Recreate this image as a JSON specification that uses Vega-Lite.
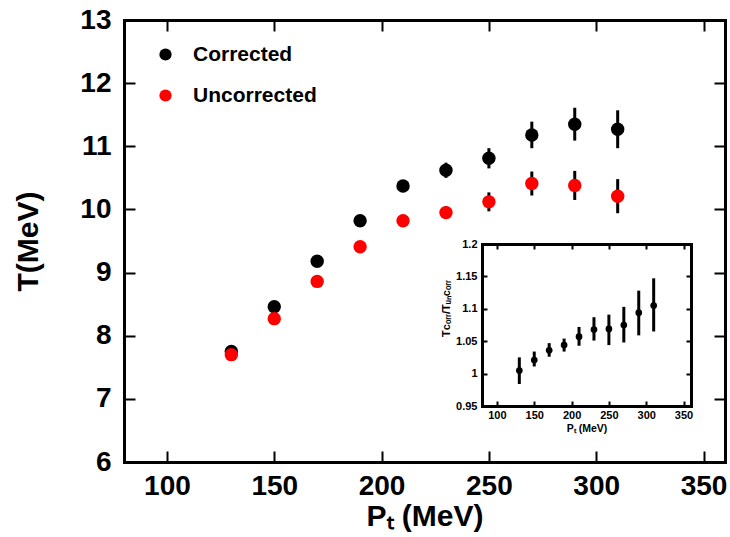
{
  "$schema": "https://vega.github.io/schema/vega-lite/v6.json",
  "width": 601,
  "height": 442,
  "autosize": {"type": "none"},
  "padding": {"left": 124, "top": 20, "right": 5, "bottom": 75},
  "background": "white",
  "config": {
    "view": {"stroke": null},
    "font": "Liberation Sans",
    "axis": {
      "grid": false,
      "domainColor": "black",
      "tickColor": "black",
      "labelColor": "black",
      "titleColor": "black",
      "labelFont": "Liberation Sans",
      "titleFont": "Liberation Sans",
      "labelFontWeight": "bold",
      "titleFontWeight": "bold",
      "domainCap": "square",
      "labelFlush": false,
      "labelOverlap": false
    }
  },
  "datasets": {
    "main": [
      {"pt": 130, "T": 7.75, "lo": 7.69, "hi": 7.81, "series": "Corrected"},
      {"pt": 150, "T": 8.46, "lo": 8.40, "hi": 8.52, "series": "Corrected"},
      {"pt": 170, "T": 9.18, "lo": 9.12, "hi": 9.24, "series": "Corrected"},
      {"pt": 190, "T": 9.82, "lo": 9.75, "hi": 9.89, "series": "Corrected"},
      {"pt": 210, "T": 10.37, "lo": 10.29, "hi": 10.45, "series": "Corrected"},
      {"pt": 230, "T": 10.62, "lo": 10.50, "hi": 10.74, "series": "Corrected"},
      {"pt": 250, "T": 10.81, "lo": 10.65, "hi": 10.97, "series": "Corrected"},
      {"pt": 270, "T": 11.18, "lo": 10.97, "hi": 11.39, "series": "Corrected"},
      {"pt": 290, "T": 11.35, "lo": 11.09, "hi": 11.61, "series": "Corrected"},
      {"pt": 310, "T": 11.27, "lo": 10.97, "hi": 11.57, "series": "Corrected"},
      {"pt": 130, "T": 7.70, "lo": 7.66, "hi": 7.74, "series": "Uncorrected"},
      {"pt": 150, "T": 8.27, "lo": 8.22, "hi": 8.32, "series": "Uncorrected"},
      {"pt": 170, "T": 8.86, "lo": 8.81, "hi": 8.91, "series": "Uncorrected"},
      {"pt": 190, "T": 9.41, "lo": 9.35, "hi": 9.47, "series": "Uncorrected"},
      {"pt": 210, "T": 9.82, "lo": 9.76, "hi": 9.88, "series": "Uncorrected"},
      {"pt": 230, "T": 9.95, "lo": 9.85, "hi": 10.05, "series": "Uncorrected"},
      {"pt": 250, "T": 10.12, "lo": 9.97, "hi": 10.27, "series": "Uncorrected"},
      {"pt": 270, "T": 10.41, "lo": 10.22, "hi": 10.60, "series": "Uncorrected"},
      {"pt": 290, "T": 10.38, "lo": 10.15, "hi": 10.61, "series": "Uncorrected"},
      {"pt": 310, "T": 10.21, "lo": 9.94, "hi": 10.48, "series": "Uncorrected"}
    ],
    "ratio": [
      {"pt": 130, "r": 1.0046, "lo": 0.984, "hi": 1.025},
      {"pt": 150, "r": 1.021, "lo": 1.011, "hi": 1.034},
      {"pt": 170, "r": 1.036, "lo": 1.026, "hi": 1.047},
      {"pt": 190, "r": 1.044, "lo": 1.034, "hi": 1.054},
      {"pt": 210, "r": 1.057, "lo": 1.043, "hi": 1.072},
      {"pt": 230, "r": 1.068, "lo": 1.051, "hi": 1.087},
      {"pt": 250, "r": 1.069, "lo": 1.044, "hi": 1.091},
      {"pt": 270, "r": 1.075, "lo": 1.048, "hi": 1.103},
      {"pt": 290, "r": 1.094, "lo": 1.059, "hi": 1.128},
      {"pt": 310, "r": 1.105, "lo": 1.065, "hi": 1.147}
    ]
  },
  "layer": [
    {
      "data": {"name": "main"},
      "layer": [
        {
          "mark": {"type": "rule", "strokeWidth": 3, "color": "black"},
          "encoding": {
            "x": {
              "field": "pt", "type": "quantitative",
              "scale": {"domain": [80, 360], "nice": false, "zero": false},
              "axis": {
                "orient": "bottom",
                "values": [100, 150, 200, 250, 300, 350],
                "ticks": false, "domainWidth": 3,
                "labelFontSize": 28, "labelPadding": 10,
                "title": "Pₜ (MeV)", "titleFontSize": 30,
                "titleY": 63, "titleBaseline": "alphabetic"
              }
            },
            "y": {
              "field": "lo", "type": "quantitative",
              "scale": {"domain": [6, 13], "nice": false, "zero": false},
              "axis": {
                "orient": "left",
                "values": [6, 7, 8, 9, 10, 11, 12, 13], "format": "d",
                "ticks": false, "domainWidth": 3,
                "labelFontSize": 28, "labelPadding": 13,
                "title": "T(MeV)", "titleFontSize": 30,
                "titleX": -87, "titleBaseline": "alphabetic"
              }
            },
            "y2": {"field": "hi"}
          }
        },
        {
          "mark": {"type": "circle", "size": 180, "opacity": 1},
          "encoding": {
            "x": {"field": "pt", "type": "quantitative"},
            "y": {"field": "T", "type": "quantitative"},
            "color": {
              "field": "series", "type": "nominal",
              "scale": {"domain": ["Corrected", "Uncorrected"], "range": ["#000000", "#ff0000"]},
              "legend": {
                "orient": "none", "legendX": 31, "legendY": 24,
                "title": null,
                "symbolType": "circle", "symbolSize": 150, "symbolStrokeWidth": 0, "symbolOpacity": 1,
                "labelFontSize": 21, "labelFont": "Liberation Sans", "labelFontWeight": "bold",
                "labelColor": "black", "labelOffset": 17, "rowPadding": 19
              }
            }
          }
        }
      ]
    },
    {
      "data": {"name": "main"},
      "mark": {"type": "point", "opacity": 0},
      "encoding": {
        "x": {
          "field": "pt", "type": "quantitative",
          "scale": {"domain": [80, 360], "nice": false, "zero": false},
          "axis": {
            "orient": "top", "offset": -442, "values": [100, 150, 200, 250, 300, 350],
            "labels": false, "title": null, "domain": false,
            "tickSize": 11, "tickWidth": 2
          }
        },
        "y": {
          "field": "T", "type": "quantitative",
          "scale": {"domain": [6, 13], "nice": false, "zero": false},
          "axis": {
            "orient": "right", "offset": -601, "values": [6, 7, 8, 9, 10, 11, 12, 13],
            "labels": false, "title": null, "domain": false,
            "tickSize": 11, "tickWidth": 2
          }
        }
      }
    },
    {
      "data": {"name": "main"},
      "mark": {"type": "point", "opacity": 0},
      "encoding": {
        "x": {
          "field": "pt", "type": "quantitative",
          "scale": {"domain": [80, 360], "nice": false, "zero": false},
          "axis": {
            "orient": "bottom", "offset": -442, "values": [100, 150, 200, 250, 300, 350],
            "labels": false, "title": null,
            "tickSize": 11, "tickWidth": 2, "domainWidth": 3
          }
        },
        "y": {
          "field": "T", "type": "quantitative",
          "scale": {"domain": [6, 13], "nice": false, "zero": false},
          "axis": {
            "orient": "left", "offset": -601, "values": [6, 7, 8, 9, 10, 11, 12, 13],
            "labels": false, "title": null,
            "tickSize": 11, "tickWidth": 2, "domainWidth": 3
          }
        }
      }
    },
    {
      "data": {"name": "ratio"},
      "layer": [
        {
          "mark": {"type": "rule", "strokeWidth": 3, "color": "black"},
          "encoding": {
            "x": {
              "field": "pt", "type": "quantitative",
              "scale": {"domain": [80, 360], "range": [358, 567], "nice": false, "zero": false},
              "axis": {
                "orient": "bottom", "offset": -56,
                "values": [100, 150, 200, 250, 300, 350],
                "ticks": false, "domainWidth": 3,
                "labelFontSize": 11, "labelPadding": 3,
                "title": "Pₜ (MeV)", "titleFontSize": 10.5,
                "titleY": 25, "titleBaseline": "alphabetic"
              }
            },
            "y": {
              "field": "lo", "type": "quantitative",
              "scale": {"domain": [0.95, 1.2], "range": [386, 224], "nice": false, "zero": false},
              "axis": {
                "orient": "left", "offset": -358,
                "values": [0.95, 1, 1.05, 1.1, 1.15, 1.2], "format": "~g",
                "ticks": false, "domainWidth": 3,
                "labelFontSize": 11, "labelPadding": 5,
                "title": "Tᴄₒᵣᵣ/Tᵤₙᴄₒᵣᵣ", "titleFontSize": 11,
                "titleX": -33, "titleY": 288, "titleBaseline": "alphabetic"
              }
            },
            "y2": {"field": "hi"}
          }
        },
        {
          "mark": {"type": "circle", "size": 45, "opacity": 1, "color": "black"},
          "encoding": {
            "x": {"field": "pt", "type": "quantitative"},
            "y": {"field": "r", "type": "quantitative"}
          }
        }
      ]
    },
    {
      "data": {"name": "ratio"},
      "mark": {"type": "point", "opacity": 0},
      "encoding": {
        "x": {
          "field": "pt", "type": "quantitative",
          "scale": {"domain": [80, 360], "range": [358, 567], "nice": false, "zero": false},
          "axis": {
            "orient": "top", "offset": -386, "values": [100, 150, 200, 250, 300, 350],
            "labels": false, "title": null, "domain": false,
            "tickSize": 5, "tickWidth": 2
          }
        },
        "y": {
          "field": "r", "type": "quantitative",
          "scale": {"domain": [0.95, 1.2], "range": [386, 224], "nice": false, "zero": false},
          "axis": {
            "orient": "right", "offset": -243, "values": [0.95, 1, 1.05, 1.1, 1.15, 1.2],
            "labels": false, "title": null, "domain": false,
            "tickSize": 5, "tickWidth": 2
          }
        }
      }
    },
    {
      "data": {"name": "ratio"},
      "mark": {"type": "point", "opacity": 0},
      "encoding": {
        "x": {
          "field": "pt", "type": "quantitative",
          "scale": {"domain": [80, 360], "range": [358, 567], "nice": false, "zero": false},
          "axis": {
            "orient": "bottom", "offset": -218, "values": [100, 150, 200, 250, 300, 350],
            "labels": false, "title": null,
            "tickSize": 5, "tickWidth": 2, "domainWidth": 3
          }
        },
        "y": {
          "field": "r", "type": "quantitative",
          "scale": {"domain": [0.95, 1.2], "range": [386, 224], "nice": false, "zero": false},
          "axis": {
            "orient": "left", "offset": -567, "values": [0.95, 1, 1.05, 1.1, 1.15, 1.2],
            "labels": false, "title": null,
            "tickSize": 5, "tickWidth": 2, "domainWidth": 3
          }
        }
      }
    }
  ],
  "resolve": {
    "scale": {"x": "independent", "y": "independent"},
    "axis": {"x": "independent", "y": "independent"}
  }
}
